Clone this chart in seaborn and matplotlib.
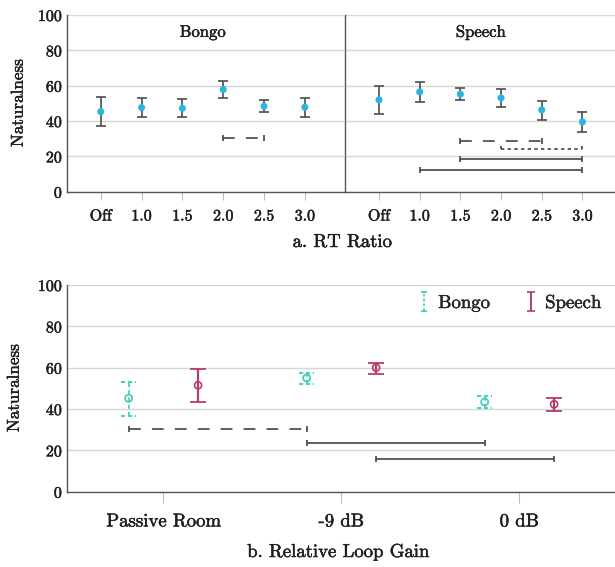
import numpy as np
import pandas as pd
import matplotlib
matplotlib.use("Agg")
import matplotlib.pyplot as plt
import matplotlib.patheffects as pe
from matplotlib.text import Text
import seaborn as sns

# ---- data -------------------------------------------------------------
ratios = ["Off", "1.0", "1.5", "2.0", "2.5", "3.0"]
bongo_mean = [45.3, 47.6, 47.2, 57.8, 48.4, 47.8]
bongo_lo = [37.0, 42.1, 42.1, 52.9, 45.0, 42.5]
bongo_hi = [53.7, 52.9, 52.5, 62.9, 52.0, 52.9]
speech_mean = [52.0, 56.5, 55.2, 53.1, 46.3, 39.5]
speech_lo = [43.9, 51.0, 52.0, 48.0, 40.8, 33.8]
speech_hi = [60.1, 62.0, 58.6, 58.0, 51.6, 45.0]

gains = ["Passive Room", "-9 dB", "0 dB"]
stimuli = ["Bongo", "Speech"]
gain_bongo_mean = [45.2, 55.0, 43.4]
gain_bongo_lo = [36.8, 52.1, 40.3]
gain_bongo_hi = [53.2, 57.6, 46.3]
gain_speech_mean = [51.5, 60.0, 42.3]
gain_speech_lo = [43.4, 56.9, 39.2]
gain_speech_hi = [59.4, 62.4, 45.2]

# significant pairwise differences: (from, to, height, line style)
bongo_pairs = [("2.0", "2.5", 30.2, "dash")]
speech_pairs = [("1.5", "2.5", 28.7, "dash"),
                ("2.0", "3.0", 24.0, "dot"),
                ("1.5", "3.0", 18.3, "solid"),
                ("1.0", "3.0", 12.1, "solid")]
gain_pairs = [(("Bongo", "Passive Room"), ("Bongo", "-9 dB"), 30.3, "dash"),
              (("Bongo", "-9 dB"), ("Bongo", "0 dB"), 23.4, "solid"),
              (("Speech", "-9 dB"), ("Speech", "0 dB"), 15.8, "solid")]

# ---- style ------------------------------------------------------------
sns.set_style("white")
plt.rcParams["font.family"] = ["cmr10", "DejaVu Serif"]
plt.rcParams["mathtext.fontset"] = "cm"
plt.rcParams["axes.formatter.use_mathtext"] = True
plt.rcParams["axes.unicode_minus"] = False
plt.rcParams["lines.scale_dashes"] = False

POINT = "#2ab3e3"
BAR = "#4d4d4d"
BONGO = "#3ccdb9"
SPEECH = "#b53c70"
GRID = "#d6d6d6"
SPINE = "#555555"
SIG = "#444444"
INK = "#1e1e1e"
DASHES = {"dash": (0, (8.5, 8.0)), "dot": (0, (2.4, 2.4)), "solid": "-"}

fig = plt.figure(figsize=(6.15, 5.67), dpi=100)
W, H = 615.0, 567.0


def add_axes(x0, x1, ytop, ybot):
    return fig.add_axes([x0 / W, 1 - ybot / H, (x1 - x0) / W, (ybot - ytop) / H])


ax_b = add_axes(66.7, 344.0, 15.0, 191.7)
ax_s = add_axes(345.0, 615.0, 15.0, 191.7)
ax_g = add_axes(66.7, 615.0, 285.0, 491.7)


def style_axes(ax, ticklen, xfs, yfs):
    ax.set_ylim(0, 100)
    ax.set_yticks([0, 20, 40, 60, 80, 100])
    ax.yaxis.grid(True, color=GRID, lw=1.0)
    ax.set_axisbelow(True)
    for side in ("top", "right"):
        ax.spines[side].set_visible(False)
    for side in ("left", "bottom"):
        ax.spines[side].set_color(SPINE)
        ax.spines[side].set_linewidth(1.0)
    ax.tick_params(axis="y", length=0, pad=2.5, labelsize=yfs, colors=INK)
    ax.tick_params(axis="x", length=ticklen, width=0.8, color="#bbbbbb",
                   pad=7, labelsize=xfs, labelcolor=INK, direction="out",
                   bottom=True)


def draw_pair(ax, x1, x2, y, style, cap):
    ls = DASHES[style]
    ax.plot([x1, x2], [y, y], color=SIG, lw=1.2, linestyle=ls,
            solid_capstyle="butt", dash_capstyle="butt", zorder=3)
    if style == "dot":
        ax.vlines([x1, x2], y, y + cap * 1.2, color=SIG, lw=1.2, zorder=3)
    else:
        ax.vlines([x1, x2], y - cap, y + cap, color=SIG, lw=1.2, zorder=3)


# ---- a. RT ratio panels ---------------------------------------------
panels = [(ax_b, "Bongo", bongo_mean, bongo_lo, bongo_hi, bongo_pairs, 5.96),
          (ax_s, "Speech", speech_mean, speech_lo, speech_hi, speech_pairs, 5.80)]
for ax, name, m, lo, hi, pairs, xmax in panels:
    df = pd.DataFrame({"x": np.arange(len(ratios)), "mean": m, "lo": lo, "hi": hi})
    style_axes(ax, 6, 11.5, 11.5)
    ax.errorbar(df["x"], df["mean"], yerr=[df["mean"] - df["lo"], df["hi"] - df["mean"]],
                fmt="none", ecolor=BAR, elinewidth=1.2, capsize=3.7, capthick=1.2, zorder=2)
    sns.scatterplot(data=df, x="x", y="mean", ax=ax, color=POINT, s=26,
                    edgecolor="none", zorder=4, legend=False)
    for a, b, y, st in pairs:
        draw_pair(ax, ratios.index(a), ratios.index(b), y, st, 1.7)
    ax.set_xlim(-0.835, xmax)
    ax.set_xticks(range(len(ratios)), ratios)
    ax.set_xlabel("")
    ax.set_ylabel("")
    ax.text(2.5, 90.3, name, ha="center", va="center", fontsize=12, color=INK)

ax_s.tick_params(axis="y", labelleft=False)

fig.text(18 / W, 1 - 103 / H, "Naturalness", rotation=90, ha="center", va="center",
         fontsize=12.3, color=INK)
fig.text(342 / W, 1 - 242 / H, "a. RT Ratio", ha="center", va="center",
         fontsize=13.5, color=INK)

# ---- b. relative loop gain panel -------------------------------------
OFF = {"Bongo": -0.195, "Speech": 0.195}
rows = []
for stim, m, lo, hi in [("Bongo", gain_bongo_mean, gain_bongo_lo, gain_bongo_hi),
                        ("Speech", gain_speech_mean, gain_speech_lo, gain_speech_hi)]:
    for i, g in enumerate(gains):
        rows.append({"stim": stim, "gain": g, "x": i + OFF[stim],
                     "mean": m[i], "lo": lo[i], "hi": hi[i]})
gdf = pd.DataFrame(rows)

style_axes(ax_g, 8, 13.5, 11.5)
cap_half = 0.042
for stim, col in [("Bongo", BONGO), ("Speech", SPEECH)]:
    d = gdf[gdf["stim"] == stim]
    if stim == "Bongo":
        ls = (0, (3.0, 2.2))
        ax_g.vlines(d["x"], d["lo"], d["hi"], color=col, lw=1.2, linestyle=ls, zorder=2)
        for edge in ("lo", "hi"):
            ax_g.hlines(d[edge], d["x"] - cap_half, d["x"] + cap_half, color=col,
                        lw=1.3, linestyle=(0, (3.0, 2.0)), zorder=2)
    else:
        ax_g.errorbar(d["x"], d["mean"], yerr=[d["mean"] - d["lo"], d["hi"] - d["mean"]],
                      fmt="none", ecolor=col, elinewidth=1.6, capsize=5.8,
                      capthick=1.3, zorder=2)
    sns.scatterplot(data=d, x="x", y="mean", ax=ax_g, marker="o", s=26,
                    facecolor="none", edgecolor=col, linewidth=1.2, zorder=4,
                    legend=False)

for (s1, g1), (s2, g2), y, st in gain_pairs:
    draw_pair(ax_g, gains.index(g1) + OFF[s1], gains.index(g2) + OFF[s2], y, st, 1.45)

ax_g.set_xlim(-0.543, 2.537)
ax_g.set_xticks(range(len(gains)), gains)
ax_g.set_xlabel("")
ax_g.set_ylabel("")

# legend proxies
h_b = ax_g.errorbar([np.nan], [np.nan], yerr=[[1], [1]], fmt="none", ecolor=BONGO,
                    elinewidth=1.2, capsize=2.5, capthick=1.2)
h_b[2][0].set_linestyle((0, (2.0, 1.5)))
h_s = ax_g.errorbar([np.nan], [np.nan], yerr=[[1], [1]], fmt="none", ecolor=SPEECH,
                    elinewidth=1.4, capsize=3.0, capthick=1.2)
ax_g.legend([h_b, h_s], stimuli, loc="center right",
            bbox_to_anchor=(601 / W, 1 - 303 / H), bbox_transform=fig.transFigure,
            ncol=2, frameon=False, fontsize=13.5, handlelength=0.6, handleheight=0.55,
            handletextpad=0.45, columnspacing=1.9, borderpad=0, borderaxespad=0)

fig.text(14 / W, 1 - 388 / H, "Naturalness", rotation=90, ha="center", va="center",
         fontsize=12.3, color=INK)
fig.text(338 / W, 1 - 552 / H, "b. Relative Loop Gain", ha="center", va="center",
         fontsize=13.5, color=INK)

# slightly heavier strokes for all text
for t in fig.findobj(Text):
    t.set_path_effects([pe.withStroke(linewidth=0.35, foreground=INK)])

fig.savefig("out.png", dpi=100)
